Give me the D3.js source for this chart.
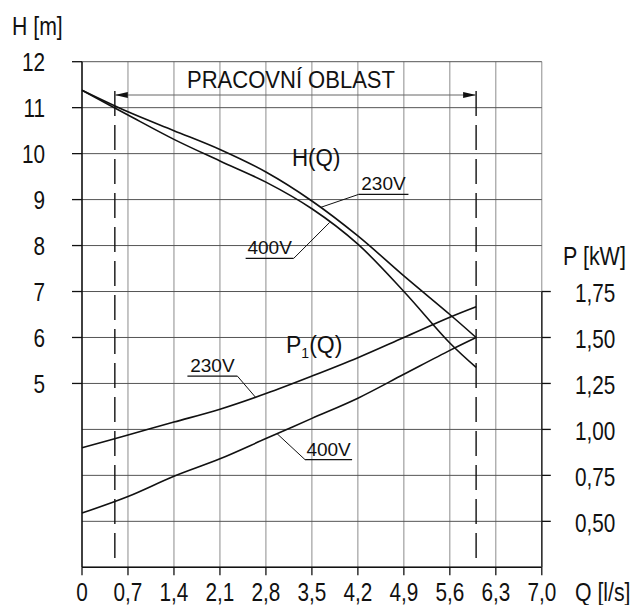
<!DOCTYPE html>
<html>
<head>
<meta charset="utf-8">
<script src="https://cdn.jsdelivr.net/npm/d3@7"></script>
<style>
  html, body { margin: 0; padding: 0; background: #fff; }
  svg { display: block; font-family: "Liberation Sans", Arial, sans-serif; }
</style>
</head>
<body>
<svg id="chart" width="635" height="605"></svg>
<script>
// ---- data ----
const flowQ = [0, 0.7, 1.4, 2.1, 2.8, 3.5, 4.2, 4.9, 5.6, 6.0];
const head230 = [11.38, 10.91, 10.50, 10.09, 9.60, 8.97, 8.21, 7.34, 6.50, 6.00];
const head400 = [11.38, 10.84, 10.31, 9.84, 9.38, 8.80, 8.03, 7.00, 5.88, 5.35];
const powerQ = [0, 0.7, 1.4, 2.1, 2.8, 3.5, 4.2, 4.9, 5.6, 6.0];
const power230 = [0.90, 0.97, 1.04, 1.11, 1.195, 1.29, 1.39, 1.50, 1.61, 1.667];
const power400 = [0.545, 0.635, 0.745, 0.84, 0.95, 1.06, 1.17, 1.30, 1.43, 1.50];
const qTicks = [0, 0.7, 1.4, 2.1, 2.8, 3.5, 4.2, 4.9, 5.6, 6.3, 7.0];
const hTicks = [12, 11, 10, 9, 8, 7, 6, 5];
const hGrid = [12, 11, 10, 9, 8, 7, 6, 5, 4, 3, 2, 1];
const pTicks = [1.75, 1.50, 1.25, 1.00, 0.75, 0.50];
const workRange = [0.5, 6.0];

const fmt = v => v.toFixed(1).replace('.', ',');
const fmtP = v => v.toFixed(2).replace('.', ',');

// ---- scales ----
const x = d3.scaleLinear().domain([0, 7]).range([82, 541.8]);
const yH = d3.scaleLinear().domain([1, 12]).range([567.3, 61.7]);
const yP = d3.scaleLinear().domain([0.25, 3.0]).range([567.3, 61.7]);

const svg = d3.select('#chart');
const FONT = '"Liberation Sans", Arial, sans-serif';

function txt(g, px, py, s, size, anchor, sx) {
  return g.append('text')
    .attr('transform', `translate(${px},${py}) scale(${sx || 1},1)`)
    .attr('text-anchor', anchor || 'start')
    .attr('font-size', size)
    .attr('font-family', FONT)
    .attr('fill', '#111')
    .text(s);
}

// ---- grid ----
const grid = svg.append('g');
grid.selectAll('line.v').data(qTicks.slice(1)).join('line')
  .attr('x1', d => x(d)).attr('x2', d => x(d))
  .attr('y1', yH(12)).attr('y2', yH(1))
  .attr('stroke', '#8c8c8c').attr('stroke-width', 1);
grid.selectAll('line.h').data(hGrid).join('line')
  .attr('x1', x(0)).attr('x2', x(7))
  .attr('y1', d => yH(d)).attr('y2', d => yH(d))
  .attr('stroke', '#555').attr('stroke-width', 1);

// ---- axes ----
const axes = svg.append('g');
// left axis
axes.append('line').attr('x1', x(0)).attr('x2', x(0)).attr('y1', yH(12)).attr('y2', yH(1))
  .attr('stroke', '#111').attr('stroke-width', 1.6);
axes.selectAll('line.lt').data(hTicks).join('line')
  .attr('x1', x(0) - 10).attr('x2', x(0)).attr('y1', d => yH(d)).attr('y2', d => yH(d))
  .attr('stroke', '#111').attr('stroke-width', 1.3);
hTicks.forEach(d => txt(axes, 45, yH(d) + 9.5, String(d), 25, 'end', 0.83));
txt(axes, 12, 35, 'H [m]', 25, 'start', 0.85);

// bottom axis
axes.append('line').attr('x1', x(0)).attr('x2', x(7)).attr('y1', yH(1)).attr('y2', yH(1))
  .attr('stroke', '#111').attr('stroke-width', 1.6);
axes.selectAll('line.bt').data(qTicks).join('line')
  .attr('x1', d => x(d)).attr('x2', d => x(d)).attr('y1', yH(1)).attr('y2', yH(1) + 8)
  .attr('stroke', '#111').attr('stroke-width', 1.3);
qTicks.forEach(d => txt(axes, x(d), 601, d === 0 ? '0' : fmt(d), 25, 'middle', 0.83));
txt(axes, 575, 601, 'Q [l/s]', 25, 'start', 0.85);

// right axis (power)
axes.append('line').attr('x1', x(7)).attr('x2', x(7)).attr('y1', yP(1.75)).attr('y2', yH(1))
  .attr('stroke', '#333').attr('stroke-width', 1.6);
axes.selectAll('line.rt').data(pTicks).join('line')
  .attr('x1', x(7)).attr('x2', x(7) + 9).attr('y1', d => yP(d)).attr('y2', d => yP(d))
  .attr('stroke', '#111').attr('stroke-width', 1.3);
pTicks.forEach(d => txt(axes, 575, yP(d) + 10.5, fmtP(d), 25, 'start', 0.83));
txt(axes, 563, 265, 'P [kW]', 25, 'start', 0.86);

// ---- working range ----
const wr = svg.append('g');
workRange.forEach(q => {
  wr.append('line').attr('x1', x(q)).attr('x2', x(q)).attr('y1', 91).attr('y2', yH(1))
    .attr('stroke', '#111').attr('stroke-width', 1.4).attr('stroke-dasharray', '25,9');
});
wr.append('line').attr('x1', x(workRange[0])).attr('x2', x(workRange[1])).attr('y1', 95).attr('y2', 95)
  .attr('stroke', '#666').attr('stroke-width', 1);
wr.append('path')
  .attr('d', `M${x(workRange[0])},95 l13,-3 v6 z M${x(workRange[1])},95 l-13,-3 v6 z`)
  .attr('fill', '#111');
wr.append('text').attr('x', 187).attr('y', 88).attr('font-size', 23).attr('font-family', FONT)
  .attr('textLength', 208).attr('lengthAdjust', 'spacingAndGlyphs').attr('fill', '#111')
  .text('PRACOVNÍ OBLAST');

// ---- curves ----
const curves = svg.append('g').attr('fill', 'none').attr('stroke', '#111').attr('stroke-width', 1.6);
const lineH = d3.line().x((d, i) => x(flowQ[i])).y(d => yH(d)).curve(d3.curveCatmullRom.alpha(0.5));
const lineP = d3.line().x((d, i) => x(powerQ[i])).y(d => yP(d)).curve(d3.curveCatmullRom.alpha(0.5));
curves.append('path').attr('d', lineH(head230));
curves.append('path').attr('d', lineH(head400));
curves.append('path').attr('d', lineP(power230));
curves.append('path').attr('d', lineP(power400));

// ---- labels ----
const lab = svg.append('g');
txt(lab, 292, 166, 'H(Q)', 24, 'start', 0.93);
const p1 = lab.append('text').attr('x', 286).attr('y', 353).attr('font-size', 23)
  .attr('font-family', FONT).attr('fill', '#111');
p1.append('tspan').text('P');
p1.append('tspan').attr('font-size', 14).attr('dy', 5).text('1');
p1.append('tspan').attr('dy', -5).text('(Q)');

const iH230 = d3.scaleLinear().domain(flowQ).range(head230);
const iH400 = d3.scaleLinear().domain(flowQ).range(head400);
const iP230 = d3.scaleLinear().domain(powerQ).range(power230);
const iP400 = d3.scaleLinear().domain(powerQ).range(power400);

function leader(px, py, dx, dy, len, text) {
  const ux = px + dx, uy = py + dy;
  const x0 = len > 0 ? ux : ux + len, x1 = len > 0 ? ux + len : ux;
  lab.append('line').attr('x1', px).attr('y1', py).attr('x2', ux).attr('y2', uy)
    .attr('stroke', '#111').attr('stroke-width', 1);
  lab.append('line').attr('x1', x0).attr('x2', x1).attr('y1', uy).attr('y2', uy)
    .attr('stroke', '#111').attr('stroke-width', 1.2);
  txt(lab, (x0 + x1) / 2, uy - 4, text, 19, 'middle', 1);
}
leader(x(3.63), yH(iH230(3.63)), 38, -13, 50, '230V');
leader(x(3.77), yH(iH400(3.77)), -36, 36, -48, '400V');
leader(x(2.64), yP(iP230(2.64)), -18, -21, -50, '230V');
leader(x(2.97), yP(iP400(2.97)), 28, 26, 47, '400V');
</script>
</body>
</html>
